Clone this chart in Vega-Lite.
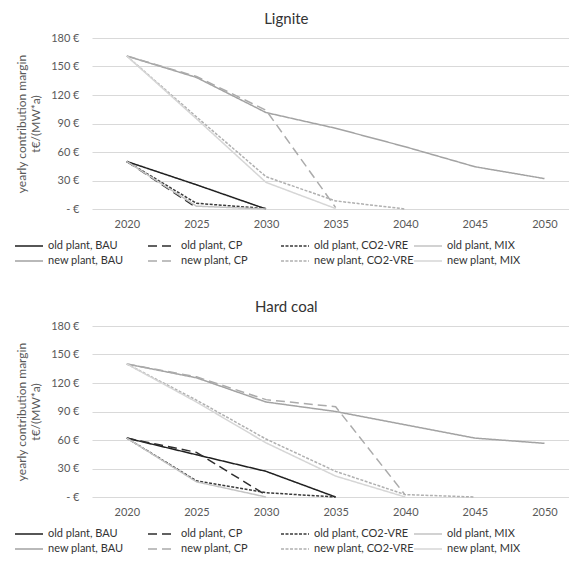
{
  "$schema": "https://vega.github.io/schema/vega-lite/v6.json",
  "padding": {"left": 15, "top": 12, "right": 0, "bottom": 0},
  "background": "white",
  "config": {
    "font": "Lato",
    "view": {"stroke": null},
    "concat": {"spacing": 34},
    "title": {"fontSize": 15, "fontWeight": "normal", "color": "#333333", "anchor": "middle", "frame": "bounds", "offset": 5, "dx": -6},
    "axis": {"labelFont": "Lato", "titleFont": "Lato", "labelColor": "#595959", "titleColor": "#595959", "labelFontSize": 11, "titleFontSize": 12, "titleFontWeight": "normal", "domain": false, "ticks": false, "gridColor": "#d9d9d9", "gridWidth": 1}
  },
  "datasets": {
    "d": [
      {"fuel": "Lignite", "series": "old plant, BAU", "year": 2020, "value": 50},
      {"fuel": "Lignite", "series": "old plant, BAU", "year": 2025, "value": 25.5},
      {"fuel": "Lignite", "series": "old plant, BAU", "year": 2030, "value": 0},
      {"fuel": "Lignite", "series": "old plant, CP", "year": 2020, "value": 50},
      {"fuel": "Lignite", "series": "old plant, CP", "year": 2025, "value": 1.5},
      {"fuel": "Lignite", "series": "old plant, CO2-VRE", "year": 2020, "value": 50},
      {"fuel": "Lignite", "series": "old plant, CO2-VRE", "year": 2025, "value": 6},
      {"fuel": "Lignite", "series": "old plant, CO2-VRE", "year": 2030, "value": 0.5},
      {"fuel": "Lignite", "series": "old plant, MIX", "year": 2020, "value": 50},
      {"fuel": "Lignite", "series": "old plant, MIX", "year": 2025, "value": 3},
      {"fuel": "Lignite", "series": "old plant, MIX", "year": 2030, "value": 0},
      {"fuel": "Lignite", "series": "new plant, BAU", "year": 2020, "value": 161},
      {"fuel": "Lignite", "series": "new plant, BAU", "year": 2025, "value": 138.5},
      {"fuel": "Lignite", "series": "new plant, BAU", "year": 2030, "value": 101.5},
      {"fuel": "Lignite", "series": "new plant, BAU", "year": 2035, "value": 85},
      {"fuel": "Lignite", "series": "new plant, BAU", "year": 2040, "value": 65.5},
      {"fuel": "Lignite", "series": "new plant, BAU", "year": 2045, "value": 44.5},
      {"fuel": "Lignite", "series": "new plant, BAU", "year": 2050, "value": 32},
      {"fuel": "Lignite", "series": "new plant, CP", "year": 2020, "value": 161},
      {"fuel": "Lignite", "series": "new plant, CP", "year": 2025, "value": 139.5},
      {"fuel": "Lignite", "series": "new plant, CP", "year": 2030, "value": 104},
      {"fuel": "Lignite", "series": "new plant, CP", "year": 2035, "value": 1.5},
      {"fuel": "Lignite", "series": "new plant, CO2-VRE", "year": 2020, "value": 161},
      {"fuel": "Lignite", "series": "new plant, CO2-VRE", "year": 2025, "value": 97},
      {"fuel": "Lignite", "series": "new plant, CO2-VRE", "year": 2030, "value": 34},
      {"fuel": "Lignite", "series": "new plant, CO2-VRE", "year": 2035, "value": 8.5},
      {"fuel": "Lignite", "series": "new plant, CO2-VRE", "year": 2040, "value": 0},
      {"fuel": "Lignite", "series": "new plant, MIX", "year": 2020, "value": 161},
      {"fuel": "Lignite", "series": "new plant, MIX", "year": 2025, "value": 95},
      {"fuel": "Lignite", "series": "new plant, MIX", "year": 2030, "value": 28},
      {"fuel": "Lignite", "series": "new plant, MIX", "year": 2035, "value": 0.5},
      {"fuel": "Hard coal", "series": "old plant, BAU", "year": 2020, "value": 62},
      {"fuel": "Hard coal", "series": "old plant, BAU", "year": 2025, "value": 44.5},
      {"fuel": "Hard coal", "series": "old plant, BAU", "year": 2030, "value": 27},
      {"fuel": "Hard coal", "series": "old plant, BAU", "year": 2035, "value": 0},
      {"fuel": "Hard coal", "series": "old plant, CP", "year": 2020, "value": 62},
      {"fuel": "Hard coal", "series": "old plant, CP", "year": 2025, "value": 47},
      {"fuel": "Hard coal", "series": "old plant, CP", "year": 2030, "value": 2},
      {"fuel": "Hard coal", "series": "old plant, CO2-VRE", "year": 2020, "value": 62},
      {"fuel": "Hard coal", "series": "old plant, CO2-VRE", "year": 2025, "value": 17},
      {"fuel": "Hard coal", "series": "old plant, CO2-VRE", "year": 2030, "value": 4.5},
      {"fuel": "Hard coal", "series": "old plant, CO2-VRE", "year": 2035, "value": 0},
      {"fuel": "Hard coal", "series": "old plant, MIX", "year": 2020, "value": 62},
      {"fuel": "Hard coal", "series": "old plant, MIX", "year": 2025, "value": 16},
      {"fuel": "Hard coal", "series": "old plant, MIX", "year": 2030, "value": 0},
      {"fuel": "Hard coal", "series": "new plant, BAU", "year": 2020, "value": 140},
      {"fuel": "Hard coal", "series": "new plant, BAU", "year": 2025, "value": 125.5},
      {"fuel": "Hard coal", "series": "new plant, BAU", "year": 2030, "value": 100},
      {"fuel": "Hard coal", "series": "new plant, BAU", "year": 2035, "value": 90},
      {"fuel": "Hard coal", "series": "new plant, BAU", "year": 2040, "value": 76},
      {"fuel": "Hard coal", "series": "new plant, BAU", "year": 2045, "value": 62},
      {"fuel": "Hard coal", "series": "new plant, BAU", "year": 2050, "value": 56.5},
      {"fuel": "Hard coal", "series": "new plant, CP", "year": 2020, "value": 140},
      {"fuel": "Hard coal", "series": "new plant, CP", "year": 2025, "value": 126.5},
      {"fuel": "Hard coal", "series": "new plant, CP", "year": 2030, "value": 102.5},
      {"fuel": "Hard coal", "series": "new plant, CP", "year": 2035, "value": 95},
      {"fuel": "Hard coal", "series": "new plant, CP", "year": 2040, "value": 2},
      {"fuel": "Hard coal", "series": "new plant, CO2-VRE", "year": 2020, "value": 140},
      {"fuel": "Hard coal", "series": "new plant, CO2-VRE", "year": 2025, "value": 102},
      {"fuel": "Hard coal", "series": "new plant, CO2-VRE", "year": 2030, "value": 61},
      {"fuel": "Hard coal", "series": "new plant, CO2-VRE", "year": 2035, "value": 27},
      {"fuel": "Hard coal", "series": "new plant, CO2-VRE", "year": 2040, "value": 2.5},
      {"fuel": "Hard coal", "series": "new plant, CO2-VRE", "year": 2045, "value": 0},
      {"fuel": "Hard coal", "series": "new plant, MIX", "year": 2020, "value": 140},
      {"fuel": "Hard coal", "series": "new plant, MIX", "year": 2025, "value": 100},
      {"fuel": "Hard coal", "series": "new plant, MIX", "year": 2030, "value": 57},
      {"fuel": "Hard coal", "series": "new plant, MIX", "year": 2035, "value": 22},
      {"fuel": "Hard coal", "series": "new plant, MIX", "year": 2040, "value": 0}
    ]
  },
  "vconcat": [
    {
      "width": 477,
      "height": 171,
      "title": {"text": "Lignite"},
      "data": {"name": "d"},
      "transform": [{"filter": "datum.fuel === 'Lignite'"}],
      "mark": {"type": "line", "strokeWidth": 1.5},
      "encoding": {
        "x": {"field": "year", "type": "quantitative", "scale": {"domain": [2017.5, 2051.76], "nice": false, "zero": false}, "axis": {"values": [2020, 2025, 2030, 2035, 2040, 2045, 2050], "format": "d", "title": null, "grid": false, "labelPadding": 9}},
        "y": {"field": "value", "type": "quantitative", "scale": {"domain": [0, 180], "nice": false}, "axis": {"values": [0, 30, 60, 90, 120, 150, 180], "labelExpr": "datum.value === 0 ? '-   €' : datum.value + ' €'", "title": ["yearly contribution margin", "t€/(MW*a)"], "labelPadding": 13, "titlePadding": 8}},
        "color": {"field": "series", "type": "nominal", "scale": {"domain": ["old plant, BAU", "new plant, BAU", "old plant, CP", "new plant, CP", "old plant, CO2-VRE", "new plant, CO2-VRE", "old plant, MIX", "new plant, MIX"], "range": ["#1f1f1f", "#a3a3a3", "#2e2e2e", "#ababab", "#3a3a3a", "#b0b0b0", "#c4c4c4", "#d6d6d6"]}, "legend": {"title": null, "orient": "none", "legendX": -71, "legendY": 200, "columns": 4, "gridAlign": "all", "symbolType": "M-2,0H2", "symbolSize": 196, "symbolStrokeWidth": 1.5, "labelFontSize": 11, "labelColor": "#333333", "labelOffset": 11, "columnPadding": -3, "rowPadding": 2, "labelLimit": 200}},
        "strokeDash": {"field": "series", "type": "nominal", "scale": {"domain": ["old plant, BAU", "new plant, BAU", "old plant, CP", "new plant, CP", "old plant, CO2-VRE", "new plant, CO2-VRE", "old plant, MIX", "new plant, MIX"], "range": [[1, 0], [1, 0], [9, 5], [9, 5], [3, 1.5], [3, 1.5], [1, 0], [1, 0]]}, "legend": {"title": null, "orient": "none", "legendX": -71, "legendY": 200, "columns": 4, "gridAlign": "all", "symbolType": "M-2,0H2", "symbolSize": 196, "symbolStrokeWidth": 1.5, "labelFontSize": 11, "labelColor": "#333333", "labelOffset": 11, "columnPadding": -3, "rowPadding": 2, "labelLimit": 200}}
      }
    },
    {
      "width": 477,
      "height": 171,
      "title": {"text": "Hard coal"},
      "data": {"name": "d"},
      "transform": [{"filter": "datum.fuel === 'Hard coal'"}],
      "mark": {"type": "line", "strokeWidth": 1.5},
      "encoding": {
        "x": {"field": "year", "type": "quantitative", "scale": {"domain": [2017.5, 2051.76], "nice": false, "zero": false}, "axis": {"values": [2020, 2025, 2030, 2035, 2040, 2045, 2050], "format": "d", "title": null, "grid": false, "labelPadding": 9}},
        "y": {"field": "value", "type": "quantitative", "scale": {"domain": [0, 180], "nice": false}, "axis": {"values": [0, 30, 60, 90, 120, 150, 180], "labelExpr": "datum.value === 0 ? '-   €' : datum.value + ' €'", "title": ["yearly contribution margin", "t€/(MW*a)"], "labelPadding": 13, "titlePadding": 8}},
        "color": {"field": "series", "type": "nominal", "scale": {"domain": ["old plant, BAU", "new plant, BAU", "old plant, CP", "new plant, CP", "old plant, CO2-VRE", "new plant, CO2-VRE", "old plant, MIX", "new plant, MIX"], "range": ["#1f1f1f", "#a3a3a3", "#2e2e2e", "#ababab", "#3a3a3a", "#b0b0b0", "#c4c4c4", "#d6d6d6"]}, "legend": {"title": null, "orient": "none", "legendX": -71, "legendY": 200, "columns": 4, "gridAlign": "all", "symbolType": "M-2,0H2", "symbolSize": 196, "symbolStrokeWidth": 1.5, "labelFontSize": 11, "labelColor": "#333333", "labelOffset": 11, "columnPadding": -3, "rowPadding": 2, "labelLimit": 200}},
        "strokeDash": {"field": "series", "type": "nominal", "scale": {"domain": ["old plant, BAU", "new plant, BAU", "old plant, CP", "new plant, CP", "old plant, CO2-VRE", "new plant, CO2-VRE", "old plant, MIX", "new plant, MIX"], "range": [[1, 0], [1, 0], [9, 5], [9, 5], [3, 1.5], [3, 1.5], [1, 0], [1, 0]]}, "legend": {"title": null, "orient": "none", "legendX": -71, "legendY": 200, "columns": 4, "gridAlign": "all", "symbolType": "M-2,0H2", "symbolSize": 196, "symbolStrokeWidth": 1.5, "labelFontSize": 11, "labelColor": "#333333", "labelOffset": 11, "columnPadding": -3, "rowPadding": 2, "labelLimit": 200}}
      }
    }
  ],
  "resolve": {"scale": {"color": "independent", "strokeDash": "independent"}, "legend": {"color": "independent", "strokeDash": "independent"}}
}
